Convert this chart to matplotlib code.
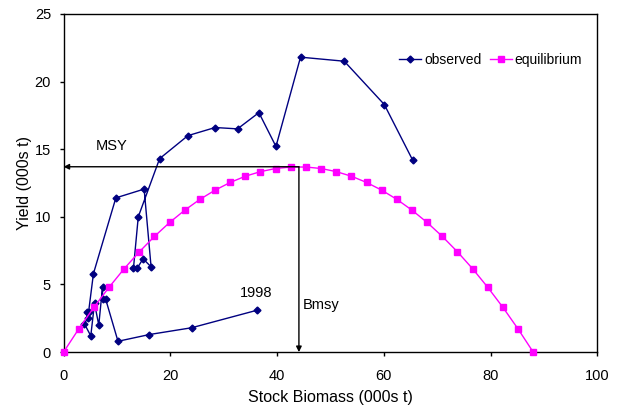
import matplotlib
matplotlib.use('Agg')
import matplotlib.pyplot as plt

plt.rcParams['font.family'] = ['Liberation Sans', 'DejaVu Sans']

# Observed stock biomass and yield (000s t)
obs_biomass = [65.4, 60.1, 52.6, 44.4, 39.8, 36.6, 32.6, 28.4, 23.3, 18.0,
               14.0, 13.1, 13.8, 14.9, 16.4, 15.1, 9.8, 5.6, 4.7, 4.3,
               4.5, 3.9, 5.1, 5.8, 6.6, 7.3, 7.3, 7.9, 10.2, 16.1,
               24.0, 36.3]
obs_yield = [14.2, 18.3, 21.5, 21.8, 15.2, 17.7, 16.5, 16.6, 16.0, 14.3,
             10.0, 6.2, 6.2, 6.9, 6.3, 12.05, 11.4, 5.8, 3.0, 3.0,
             2.5, 2.1, 1.2, 3.6, 2.0, 4.8, 3.9, 3.9, 0.8, 1.3,
             1.8, 3.1]

# Equilibrium curve points
eq_biomass = [0.0, 2.84, 5.68, 8.52, 11.35, 14.19, 17.03, 19.87, 22.71, 25.55,
              28.39, 31.23, 34.06, 36.9, 39.74, 42.58, 45.42, 48.26, 51.1, 53.94,
              56.77, 59.61, 62.45, 65.29, 68.13, 70.97, 73.81, 76.65, 79.48, 82.32,
              85.16, 88.0]
eq_yield = [0.0, 1.71, 3.31, 4.79, 6.16, 7.41, 8.55, 9.58, 10.49, 11.29,
            11.97, 12.54, 13.0, 13.34, 13.57, 13.68, 13.68, 13.57, 13.34, 13.0,
            12.54, 11.97, 11.29, 10.49, 9.58, 8.55, 7.41, 6.16, 4.79, 3.31,
            1.71, 0.0]

msy = 13.7
bmsy = 44.1

fig = plt.figure(figsize=(6.17, 4.08), dpi=100)
ax = fig.add_axes([0.103, 0.137, 0.865, 0.829])

ax.plot(obs_biomass, obs_yield, color='#000080', lw=1, marker='D', ms=3.5,
        label='observed')
ax.plot(eq_biomass, eq_yield, color='#FF00FF', lw=1, marker='s', ms=4.5,
        label='equilibrium', clip_on=False, zorder=3)

# MSY / Bmsy arrows
ax.annotate('', xy=(0, msy), xytext=(bmsy, msy),
            arrowprops=dict(arrowstyle='-|>', color='black', lw=1,
                            mutation_scale=8, shrinkA=0, shrinkB=0))
ax.annotate('', xy=(bmsy, 0), xytext=(bmsy, msy),
            arrowprops=dict(arrowstyle='-|>', color='black', lw=1,
                            mutation_scale=8, shrinkA=0, shrinkB=0))
ax.text(9.1, 15.2, 'MSY', fontsize=10.5, ha='center', va='center')
ax.text(44.9, 3.5, 'Bmsy', fontsize=10.5, ha='left', va='center')
ax.text(36.1, 4.4, '1998', fontsize=10.5, ha='center', va='center')

ax.set_xlim(0, 100)
ax.set_ylim(0, 25)
ax.set_xticks(range(0, 101, 20))
ax.set_yticks(range(0, 26, 5))
ax.tick_params(direction='out', length=3, width=1, labelsize=10.5)
ax.tick_params(axis='x', pad=9)
ax.tick_params(axis='y', pad=6)
for s in ax.spines.values():
    s.set_linewidth(1)
ax.set_xlabel('Stock Biomass (000s t)', fontsize=11.5, labelpad=5)
ax.set_ylabel('Yield (000s t)', fontsize=11.5, labelpad=2)

ax.legend(loc='center', bbox_to_anchor=(0.80, 0.864), ncol=2, frameon=False,
          fontsize=10, handlelength=1.6, handletextpad=0.2, columnspacing=0.6)

plt.savefig('out.png', dpi=100)
plt.close()
